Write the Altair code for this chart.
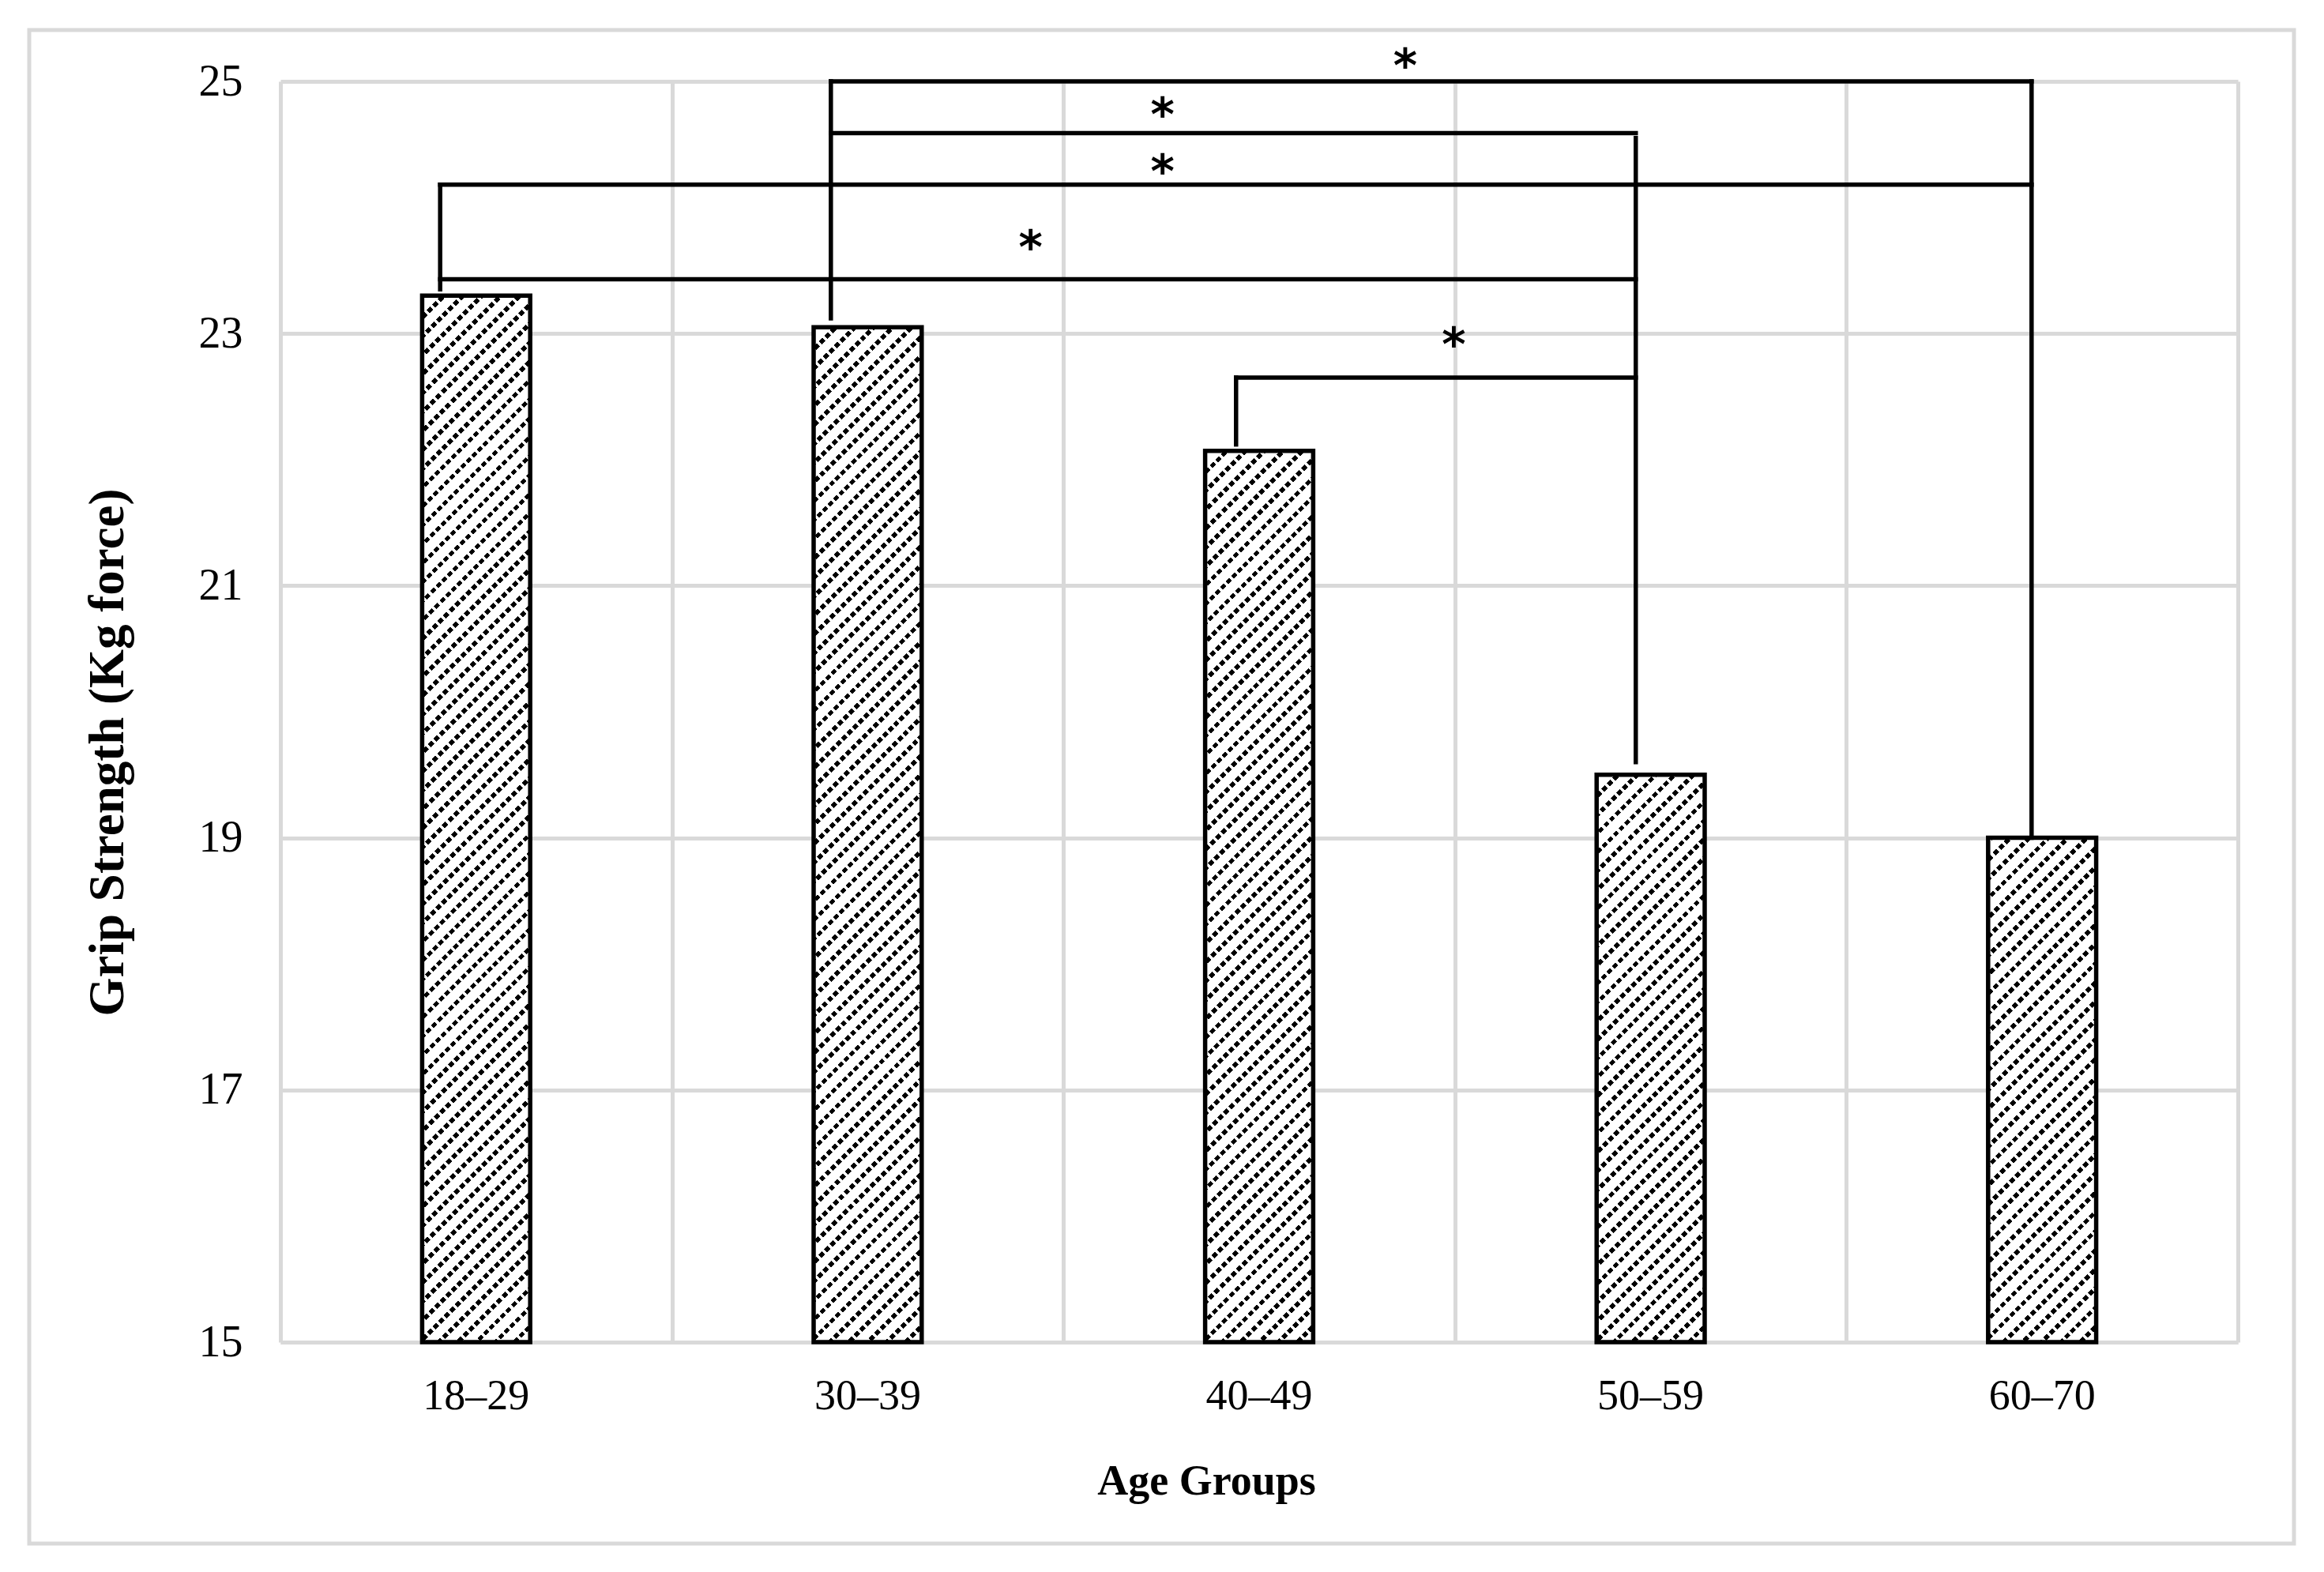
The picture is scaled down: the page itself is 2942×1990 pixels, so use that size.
import altair as alt
import pandas as pd

# ---------------- data ----------------
categories = ["18–29", "30–39", "40–49", "50–59", "60–70"]
grip = [23.3, 23.05, 22.07, 19.5, 19.0]
y_ticks = [15, 17, 19, 21, 23, 25]
Y_MIN, Y_MAX = 15, 25

# significance brackets: horizontal bars (level, from-group, to-group)
h_level = [25.0, 24.59, 24.18, 23.43, 22.65]
h_from = ["30–39", "30–39", "18–29", "18–29", "40–49"]
h_to = ["60–70", "50–59", "60–70", "50–59", "50–59"]
# vertical legs of the brackets (group, top value, bottom value)
v_group = ["18–29", "30–39", "40–49", "50–59", "60–70"]
v_top = [24.18, 25.0, 22.65, 24.55, 25.0]
v_bottom = [23.35, 23.12, 22.12, 19.6, 19.0]
# asterisks (position in category-step units, value)
star_x = [2.873, 2.253, 2.253, 1.916, 2.997]
star_y = [25.20, 24.81, 24.36, 23.76, 22.99]

# ---------------- styling ----------------
W, H = 2478, 1596
HALF = 0.138                      # half bar width, in category steps
leg_offset = [-0.092, -0.094, -0.059, -0.038, -0.027]
GRID = "#d9d9d9"
SERIF = "Liberation Serif"
LW = 5.5

idx = {c: i for i, c in enumerate(categories)}

xscale = alt.Scale(domain=[0, len(categories)], nice=False, zero=False)
yscale = alt.Scale(domain=[Y_MIN, Y_MAX], nice=False, zero=False)
xaxis = alt.Axis(values=list(range(len(categories) + 1)), grid=True, labels=False,
                 ticks=False, tickSize=0, domain=True, title="Age Groups",
                 titleX=1172, titleY=192, titleBaseline="alphabetic",
                 titleAlign="center", titleFontSize=54)
yaxis = alt.Axis(values=y_ticks, grid=True, ticks=False, tickSize=0, domain=False,
                 labelPadding=48, labelFontSize=56,
                 title="Grip Strength (Kg force)", titleX=-187, titleY=849,
                 titleAngle=270, titleBaseline="bottom", titleAlign="center",
                 titleFontSize=63)


def X(field):
    return alt.X(field, type="quantitative", scale=xscale, axis=xaxis)


def Y(field):
    return alt.Y(field, type="quantitative", scale=yscale, axis=yaxis)


def stripes(total, period, duty, on, off):
    n = max(1, round(total / period))
    stops = []
    for k in range(n):
        a = k / n
        b = min(1.0, (k + duty) / n)
        c = min(1.0, (k + 1) / n)
        stops += [alt.GradientStop(color=on, offset=a),
                  alt.GradientStop(color=on, offset=b),
                  alt.GradientStop(color=off, offset=b),
                  alt.GradientStop(color=off, offset=c)]
    return stops


bars = pd.DataFrame({
    "cat": categories,
    "v": grip,
    "base": [Y_MIN] * len(categories),
    "x0": [i + 0.5 - HALF for i in range(len(categories))],
    "x1": [i + 0.5 + HALF for i in range(len(categories))],
})

layers = []

# outer frame of the figure
frame = alt.Chart(pd.DataFrame({"f": [0]})).mark_rect(
    filled=False, stroke=GRID, strokeWidth=5
).encode(x=alt.value(-318), x2=alt.value(2549), y=alt.value(-65), y2=alt.value(1851))
layers.append(frame)

# hatched bars (diagonal dotted stripes)
for i, c in enumerate(categories):
    w = 2 * HALF * W / len(categories)
    h = (grip[i] - Y_MIN) / (Y_MAX - Y_MIN) * H
    k = (w + h) / (w * w + h * h)
    g1 = alt.LinearGradient(gradient="linear", x1=0, y1=0, x2=w * k, y2=h * k,
                            stops=stripes(w + h, 24, 0.32, "#000000", "#ffffff"))
    g2 = alt.LinearGradient(gradient="linear", x1=0, y1=1, x2=w * k, y2=1 - h * k,
                            stops=stripes(w + h, 14, 0.36, "#ffffff",
                                          "rgba(255,255,255,0)"))
    sub = bars[bars["cat"] == c]
    enc = dict(x=X("x0"), x2="x1", y=Y("v"), y2="base")
    layers.append(alt.Chart(sub).mark_rect(fill=g1, strokeWidth=0).encode(**enc))
    layers.append(alt.Chart(sub).mark_rect(fill=g2, stroke="black",
                                           strokeWidth=LW).encode(**enc))

# brackets
hdf = pd.DataFrame({
    "y": h_level,
    "xs": [idx[a] + 0.5 + leg_offset[idx[a]] for a in h_from],
    "xe": [idx[b] + 0.5 + leg_offset[idx[b]] for b in h_to],
})
vdf = pd.DataFrame({
    "x": [idx[g] + 0.5 + leg_offset[idx[g]] for g in v_group],
    "yt": v_top,
    "yb": v_bottom,
})
layers.append(alt.Chart(hdf).mark_rule(color="black", strokeWidth=LW, strokeCap="square")
              .encode(x=X("xs"), x2="xe", y=Y("y")))
layers.append(alt.Chart(vdf).mark_rule(color="black", strokeWidth=LW, strokeCap="square")
              .encode(x=X("x"), y=Y("yt"), y2="yb"))

# asterisks
sdf = pd.DataFrame({"x": star_x, "y": star_y, "t": ["*"] * len(star_x)})
layers.append(alt.Chart(sdf).mark_text(font="DejaVu Sans", fontWeight="bold", fontSize=58,
                                       baseline="middle", dy=15, color="black")
              .encode(x=X("x"), y=Y("y"), text="t"))

# category labels
ldf = pd.DataFrame({"x": [i + 0.5 for i in range(len(categories))],
                    "y": [Y_MIN] * len(categories), "t": categories})
layers.append(alt.Chart(ldf).mark_text(font=SERIF, fontSize=54, baseline="alphabetic",
                                       dy=85, color="black")
              .encode(x=X("x"), y=Y("y"), text="t"))

chart = alt.layer(*layers).properties(
    width=W, height=H,
    padding={"left": 347, "top": 95, "right": 80, "bottom": 270},
    autosize=alt.AutoSizeParams(type="none"),
).configure_view(stroke=None).configure_axis(
    gridColor=GRID, gridWidth=5, domainColor=GRID, domainWidth=5,
    labelFont=SERIF, labelColor="black", titleFont=SERIF, titleColor="black",
    titleFontWeight="bold",
)

chart.save("out.html", embed_options={"renderer": "svg", "actions": False})
